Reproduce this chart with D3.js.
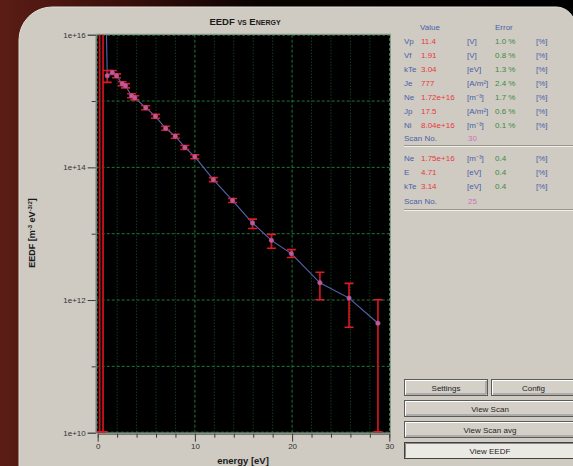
<!DOCTYPE html>
<html>
<head>
<meta charset="utf-8">
<script src="https://cdn.jsdelivr.net/npm/d3@7"></script>
<style>
	body { margin: 0; background: #000; overflow: hidden; }
	svg { display: block; font-family: 'Liberation Sans', Arial, sans-serif; }
</style>
</head>
<body>
<script>

// EEDF points (energy in eV, EEDF in m^-3 eV^-3/2)
var energy  = [0.2, 0.55, 0.98, 1.5, 1.94, 2.52, 2.86, 3.48, 3.82, 4.94, 5.94, 6.99, 7.98, 8.97, 9.99, 11.9, 13.88, 15.93, 17.87, 19.92, 22.86, 25.86, 28.83];
var eedf    = [1e21, 1e19, 2.40e15, 2.69e15, 2.40e15, 1.82e15, 1.70e15, 1.20e15, 1.12e15, 7.94e14, 5.89e14, 3.89e14, 2.95e14, 2.00e14, 1.45e14, 6.53e13, 3.16e13, 1.45e13, 7.94e12, 5.01e12, 1.82e12, 1.07e12, 4.47e11];
var eedfLow = [1e10, 1e10, 1.91e15, 2.51e15, 2.24e15, 1.70e15, 1.58e15, 1.12e15, 1.04e15, 7.4e14, 5.5e14, 3.63e14, 2.75e14, 1.86e14, 1.35e14, 6.1e13, 2.95e13, 1.20e13, 6.03e12, 4.37e12, 1.01e12, 3.89e11, 1e10];
var eedfHigh= [1e22, 1e22, 2.88e15, 2.88e15, 2.57e15, 1.95e15, 1.82e15, 1.29e15, 1.20e15, 8.5e14, 6.3e14, 4.17e14, 3.16e14, 2.14e14, 1.55e14, 7.0e13, 3.39e13, 1.66e13, 9.77e12, 5.75e12, 2.63e12, 1.78e12, 1.01e12];

var xTicks = [0, 10, 20, 30];
var xMinorTicks = [2, 4, 6, 8, 12, 14, 16, 18, 22, 24, 26, 28];
var yTicks = [1e10, 1e11, 1e12, 1e13, 1e14, 1e15, 1e16];

// probe results panel
var probeLabels = ['Vp', 'Vf', 'kTe', 'Je', 'Ne', 'Jp', 'Ni'];
var probeValues = ['11.4', '1.91', '3.04', '777', '1.72e+16', '17.5', '8.04e+16'];
var probeUnits  = ['[V]', '[V]', '[eV]', '[A/m\u00b2]', '[m\u207b\u00b3]', '[A/m\u00b2]', '[m\u207b\u00b3]'];
var probeErrors = ['1.0 %', '0.8 %', '1.3 %', '2.4 %', '1.7 %', '0.6 %', '0.1 %'];
var probeScan = '30';

var eedfLabels = ['Ne', 'E', 'kTe'];
var eedfValues = ['1.75e+16', '4.71', '3.14'];
var eedfUnits  = ['[m\u207b\u00b3]', '[eV]', '[eV]'];
var eedfErrors = ['0.4', '0.4', '0.4'];
var eedfScan = '25';

var W = 573, H = 466;

var svg = d3.select('body').append('svg')
	.attr('width', W)
	.attr('height', H);

/*
/	BACKGROUND + WINDOW
*/
var defs = svg.append('defs');
var bg = defs.append('linearGradient').attr('id', 'bg').attr('x1', '0').attr('x2', '1').attr('y1', '0').attr('y2', '0');
bg.append('stop').attr('offset', '0%').attr('stop-color', '#5a1d15');
bg.append('stop').attr('offset', '20%').attr('stop-color', '#3c100b');
bg.append('stop').attr('offset', '45%').attr('stop-color', '#0a0202');
bg.append('stop').attr('offset', '100%').attr('stop-color', '#000');

svg.append('rect')
	.attr('width', W)
	.attr('height', H)
	.style('fill', 'url(#bg)');

svg.append('path')
	.attr('d', 'M19,470 L19,40 A33,33 0 0 1 52,7 L556,7 A19,19 0 0 1 575,26 L575,470 Z')
	.style('fill', '#cfcbc2')
	.style('stroke', '#e4e1da')
	.style('stroke-width', 1);

/*
/	SCALES
*/
var x = d3.scaleLinear().domain([0, 30]).range([97.7, 389.3]);
var y = d3.scaleLog().domain([1e10, 1e16]).range([432.7, 34.7]);

var plotL = x(0) - 1, plotR = x(30) + 0.7, plotT = y(1e16), plotB = y(1e10);

/*
/	PLOT BACKGROUND + GRID
*/
svg.append('rect')
	.attr('x', plotL)
	.attr('y', plotT)
	.attr('width', plotR - plotL)
	.attr('height', plotB - plotT)
	.style('fill', '#000');

var grid = svg.append('g');

grid.selectAll('.vminor').data(xMinorTicks).enter().append('line')
	.attr('x1', function(d){ return x(d); })
	.attr('x2', function(d){ return x(d); })
	.attr('y1', plotT)
	.attr('y2', plotB)
	.style('stroke', '#18582a')
	.style('stroke-width', 1)
	.style('stroke-dasharray', '1,2');

grid.selectAll('.vmajor').data(xTicks.slice(1, 3)).enter().append('line')
	.attr('x1', function(d){ return x(d); })
	.attr('x2', function(d){ return x(d); })
	.attr('y1', plotT)
	.attr('y2', plotB)
	.style('stroke', '#217536')
	.style('stroke-width', 1)
	.style('stroke-dasharray', '3,2');

grid.selectAll('.hmajor').data(yTicks.slice(1, 6)).enter().append('line')
	.attr('x1', plotL)
	.attr('x2', plotR)
	.attr('y1', function(d){ return y(d); })
	.attr('y2', function(d){ return y(d); })
	.style('stroke', '#217536')
	.style('stroke-width', 1)
	.style('stroke-dasharray', '3,2');

// frame
svg.append('rect')
	.attr('x', plotL + 0.5)
	.attr('y', plotT + 0.5)
	.attr('width', plotR - plotL - 1)
	.attr('height', plotB - plotT - 1)
	.style('fill', 'none')
	.style('stroke', '#2a7a44')
	.style('stroke-dasharray', '3,2');
svg.append('rect')
	.attr('x', plotL - 0.5)
	.attr('y', plotT - 0.5)
	.attr('width', plotR - plotL + 1)
	.attr('height', plotB - plotT + 1)
	.style('fill', 'none')
	.style('stroke', '#8a9a90');

/*
/	DATA
*/
defs.append('clipPath').attr('id', 'clip')
	.append('rect')
	.attr('x', plotL)
	.attr('y', plotT)
	.attr('width', plotR - plotL)
	.attr('height', plotB - plotT);

var dataG = svg.append('g').attr('clip-path', 'url(#clip)');
var idx = d3.range(energy.length);

dataG.append('path')
	.datum(idx)
	.attr('d', d3.line()
		.x(function(i){ return x(energy[i]); })
		.y(function(i){ return y(eedf[i]); }))
	.style('fill', 'none')
	.style('stroke', '#5565b0')
	.style('stroke-width', 1.1);

var bars = dataG.selectAll('.err').data(idx).enter().append('g');
bars.append('line')
	.attr('x1', function(i){ return x(energy[i]); })
	.attr('x2', function(i){ return x(energy[i]); })
	.attr('y1', function(i){ return y(eedfLow[i]); })
	.attr('y2', function(i){ return y(eedfHigh[i]); })
	.style('stroke', '#c8141e')
	.style('stroke-width', 1.8);
bars.append('line')
	.attr('x1', function(i){ return x(energy[i]) - 4.5; })
	.attr('x2', function(i){ return x(energy[i]) + 4.5; })
	.attr('y1', function(i){ return Math.min(y(eedfLow[i]), plotB - 1); })
	.attr('y2', function(i){ return Math.min(y(eedfLow[i]), plotB - 1); })
	.style('stroke', '#e01a24')
	.style('stroke-width', 1.6);
bars.append('line')
	.attr('x1', function(i){ return x(energy[i]) - 4.5; })
	.attr('x2', function(i){ return x(energy[i]) + 4.5; })
	.attr('y1', function(i){ return y(eedfHigh[i]); })
	.attr('y2', function(i){ return y(eedfHigh[i]); })
	.style('stroke', '#e01a24')
	.style('stroke-width', 1.6);

dataG.selectAll('.pt').data(idx).enter().append('circle')
	.attr('cx', function(i){ return x(energy[i]); })
	.attr('cy', function(i){ return y(eedf[i]); })
	.attr('r', 2.2)
	.style('fill', '#d8508a')
	.style('stroke', '#7a70c0')
	.style('stroke-width', 0.6);

/*
/	AXES
*/
var xAxis = svg.append('g')
	.attr('transform', 'translate(0,' + (plotB + 1) + ')')
	.call(d3.axisBottom(x)
		.tickValues(xTicks.concat(xMinorTicks))
		.tickFormat(function(d){ return d % 10 === 0 ? d : ''; })
		.tickSizeOuter(0)
		.tickSize(4));
xAxis.selectAll('.tick line')
	.attr('y2', function(d){ return d % 10 === 0 ? 8 : 4; })
	.style('stroke', '#3a3a3a');
xAxis.select('.domain').style('stroke', '#555');
xAxis.selectAll('.tick text')
	.attr('y', 10)
	.style('font-family', 'Liberation Sans, Arial, sans-serif')
	.style('font-size', '8px')
	.style('fill', '#333');

var yAxis = svg.append('g')
	.attr('transform', 'translate(' + (plotL - 1) + ',0)')
	.call(d3.axisLeft(y)
		.tickValues(yTicks)
		.tickFormat(function(d){
			var e = Math.round(Math.log10(d));
			return e % 2 === 0 ? '1e+' + e : '';
		})
		.tickSizeOuter(0)
		.tickSize(8));
yAxis.selectAll('.tick line')
	.attr('x2', function(d){ return Math.round(Math.log10(d)) % 2 === 0 ? -8 : -4; })
	.style('stroke', '#3a3a3a');
yAxis.select('.domain').style('stroke', '#777');
yAxis.selectAll('.tick text')
	.attr('x', -10)
	.style('font-family', 'Liberation Sans, Arial, sans-serif')
	.style('font-size', '8px')
	.style('fill', '#333');

/*
/	TITLES
*/
var title = svg.append('text')
	.attr('x', 245)
	.attr('y', 25)
	.attr('text-anchor', 'middle')
	.style('font-size', '9.5px')
	.style('font-weight', '700')
	.style('fill', '#1a1a1a');
title.append('tspan').text('EEDF ');
title.append('tspan').style('font-variant', 'small-caps').text('vs Energy');

svg.append('text')
	.attr('x', 243)
	.attr('y', 464)
	.attr('text-anchor', 'middle')
	.style('font-size', '9.5px')
	.style('font-weight', '700')
	.style('fill', '#1a1a1a')
	.text('energy [eV]');

var yLab = svg.append('text')
	.attr('transform', 'translate(35,233) rotate(-90)')
	.attr('text-anchor', 'middle')
	.style('font-size', '9px')
	.style('font-weight', '700')
	.style('fill', '#1a1a1a');
yLab.append('tspan').text('EEDF [m');
yLab.append('tspan').attr('dy', -3).style('font-size', '6px').text('-3');
yLab.append('tspan').attr('dy', 3).text(' eV');
yLab.append('tspan').attr('dy', -3).style('font-size', '6px').text('-3/2');
yLab.append('tspan').attr('dy', 3).text(']');

/*
/	RESULTS PANEL
*/
var blue = '#4a5ea8', red = '#e8383c', green = '#3a8a3e', pink = '#d070b8';
var panel = svg.append('g').style('font-size', '8px');

function txt(px, py, s, col){
	panel.append('text').attr('x', px).attr('y', py).style('fill', col).text(s);
}

txt(420, 30, 'Value', blue);
txt(495, 30, 'Error', blue);

probeLabels.forEach(function(l, i){
	var py = 43.5 + i * 14;
	txt(404, py, l, blue);
	txt(421, py, probeValues[i], red);
	txt(467, py, probeUnits[i], blue);
	txt(495, py, probeErrors[i], green);
	txt(536, py, '[%]', blue);
});
txt(404, 141, 'Scan No.', blue);
txt(468, 141, probeScan, pink);

function sep(py){
	svg.append('line').attr('x1', 404).attr('x2', 575).attr('y1', py).attr('y2', py)
		.style('stroke', '#9a968e');
	svg.append('line').attr('x1', 404).attr('x2', 575).attr('y1', py + 1).attr('y2', py + 1)
		.style('stroke', '#f2f0ea');
}
sep(145.5);

eedfLabels.forEach(function(l, i){
	var py = 161 + i * 14;
	txt(404, py, l, blue);
	txt(421, py, eedfValues[i], red);
	txt(467, py, eedfUnits[i], blue);
	txt(495, py, eedfErrors[i], green);
	txt(536, py, '[%]', blue);
});
txt(404, 203.5, 'Scan No.', blue);
txt(468, 203.5, eedfScan, pink);
sep(209.5);

/*
/	BUTTONS
*/
function button(bx, by, bw, bh, label, pressed){
	var g = svg.append('g');
	g.append('rect').attr('x', bx).attr('y', by).attr('width', bw).attr('height', bh)
		.style('fill', pressed ? '#ebe9e3' : '#d4d0c8')
		.style('stroke', pressed ? '#404040' : '#5a5a5a')
		.style('stroke-width', 1);
	g.append('path')
		.attr('d', 'M' + (bx + 1) + ',' + (by + bh - 1) + ' L' + (bx + 1) + ',' + (by + 1) + ' L' + (bx + bw - 1) + ',' + (by + 1))
		.style('fill', 'none')
		.style('stroke', pressed ? '#8a8a8a' : '#ffffff');
	if(!pressed){
		g.append('path')
			.attr('d', 'M' + (bx + 1.5) + ',' + (by + bh - 1.5) + ' L' + (bx + bw - 1.5) + ',' + (by + bh - 1.5) + ' L' + (bx + bw - 1.5) + ',' + (by + 1.5))
			.style('fill', 'none')
			.style('stroke', '#8a8a8a');
	}
	g.append('text').attr('x', bx + bw / 2).attr('y', by + bh / 2 + 3)
		.attr('text-anchor', 'middle')
		.style('font-size', '8px')
		.style('fill', '#1e1e1e')
		.text(label);
}

button(404.5, 379.5, 83, 16, 'Settings', false);
button(491.5, 379.5, 84, 16, 'Config', false);
button(404.5, 400.5, 171, 16, 'View Scan', false);
button(404.5, 421.5, 171, 16, 'View Scan avg', false);
button(404.5, 442.5, 171, 16, 'View EEDF', true);

</script>
</body>
</html>
